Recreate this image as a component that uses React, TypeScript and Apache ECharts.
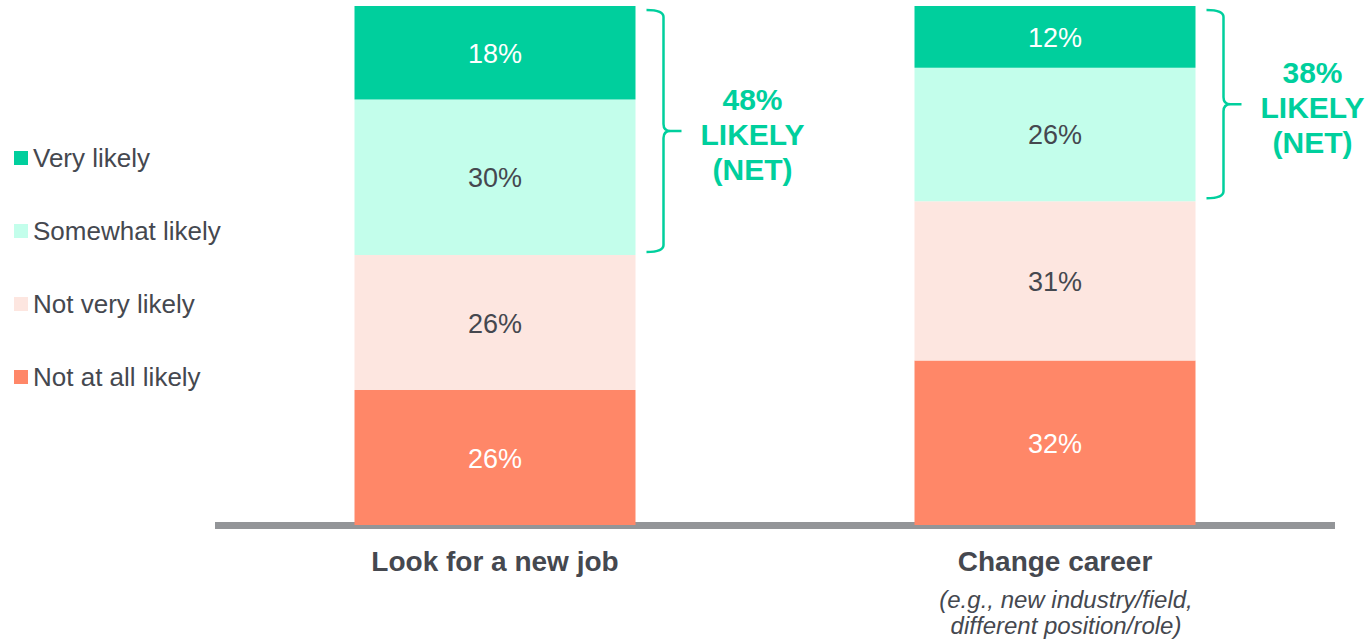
import React, { useEffect, useRef } from "react";
import * as echarts from "echarts";

const categories = ["Look for a new job", "Change career"];
const subtitles = ["", "(e.g., new industry/field,|different position/role)"];
const notAtAllLikely = [26, 32];
const notVeryLikely = [26, 31];
const somewhatLikely = [30, 26];
const veryLikely = [18, 12];
const netLikely = [48, 38];

const FONT = 'Arial, "Liberation Sans", sans-serif';
const TEXT = "#45484F";
const GREEN = "#00CF9D";
const BAR_W = 281;

export default function App() {
  const ref = useRef<HTMLDivElement>(null);
  useEffect(() => {
    if (!ref.current) return;
    const chart = echarts.init(ref.current, null, { renderer: "svg" });
    const totals = categories.map(
      (_, i) => notAtAllLikely[i] + notVeryLikely[i] + somewhatLikely[i] + veryLikely[i]
    );
    const norm = (arr: number[]) =>
      arr.map((v, i) => ({ value: (v / totals[i]) * 100, raw: v }));

    const mk = (name: string, arr: number[], color: string, labelColor: string) => ({
      name,
      type: "bar",
      stack: "total",
      barWidth: BAR_W,
      clip: false,
      data: norm(arr),
      itemStyle: { color },
      label: {
        show: true,
        position: "inside",
        color: labelColor,
        fontSize: 27,
        fontFamily: FONT,
        offset: [0, 1],
        formatter: (p: any) => p.data.raw + "%",
      },
      emphasis: { disabled: true },
    });

    const bracketData = categories.map((_, i) => [
      i,
      ((notAtAllLikely[i] + notVeryLikely[i]) / totals[i]) * 100,
      100,
      netLikely[i],
    ]);

    chart.setOption({
      animation: false,
      textStyle: { fontFamily: FONT },
      grid: { left: 215, right: 34, top: 6, bottom: 114 },
      legend: {
        orient: "vertical",
        left: 9,
        top: 138,
        icon: "rect",
        itemWidth: 14,
        itemHeight: 14,
        itemGap: 43,
        selectedMode: false,
        data: ["Very likely", "Somewhat likely", "Not very likely", "Not at all likely"],
        textStyle: { color: TEXT, fontSize: 26, fontFamily: FONT, lineHeight: 30 },
      },
      xAxis: {
        type: "category",
        data: categories,
        offset: 3.5,
        axisTick: { show: false },
        axisLine: { lineStyle: { color: "#939598", width: 7, cap: "butt" } },
        axisLabel: {
          interval: 0,
          margin: 7.5,
          formatter: (v: string, idx: number) => {
            const s = subtitles[idx];
            let out = `{b|${v}}`;
            if (s) s.split("|").forEach((l) => (out += `\n{i|${l}}`));
            return out;
          },
          rich: {
            b: { fontSize: 28, fontWeight: "bold", color: TEXT, lineHeight: 50, fontFamily: FONT },
            i: {
              fontSize: 24,
              fontStyle: "italic",
              color: TEXT,
              lineHeight: 26,
              fontFamily: FONT,
              padding: [0, 0, 0, 22],
            },
          },
        },
      },
      yAxis: { type: "value", min: 0, max: 100, show: false, splitLine: { show: false } },
      series: [
        mk("Not at all likely", notAtAllLikely, "#FF8768", "#FFFFFF"),
        mk("Not very likely", notVeryLikely, "#FDE6E0", TEXT),
        mk("Somewhat likely", somewhatLikely, "#C3FEEB", TEXT),
        mk("Very likely", veryLikely, GREEN, "#FFFFFF"),
        {
          type: "custom",
          clip: false,
          z: 10,
          encode: { x: 0, y: [1, 2] },
          data: bracketData,
          renderItem: (params: any, api: any) => {
            const i = api.value(0);
            const cx = api.coord([i, 0])[0];
            const right = cx + BAR_W / 2;
            const yt = api.coord([i, api.value(2)])[1] + 4;
            const yb = api.coord([i, api.value(1)])[1] - 3;
            const ym = (yt + yb) / 2;
            const x0 = right + 11;
            const xv = right + 28;
            const xt = right + 46;
            const r = 7;
            const d =
              `M${x0},${yt} Q${xv},${yt} ${xv},${yt + r} L${xv},${ym - r} Q${xv},${ym} ${xv + r},${ym} L${xt},${ym} ` +
              `M${xv + r},${ym} Q${xv},${ym} ${xv},${ym + r} L${xv},${yb - r} Q${xv},${yb} ${x0},${yb}`;
            return {
              type: "group",
              children: [
                {
                  type: "path",
                  shape: { pathData: d },
                  style: { stroke: GREEN, lineWidth: 2.5, fill: null },
                },
                {
                  type: "text",
                  style: {
                    text: `${api.value(3)}%\nLIKELY\n(NET)`,
                    x: right + 117,
                    y: ym + 3,
                    align: "center",
                    verticalAlign: "middle",
                    fontSize: 30,
                    fontWeight: "bold",
                    lineHeight: 35,
                    fill: GREEN,
                    fontFamily: FONT,
                  },
                },
              ],
            };
          },
        },
      ],
    });
    return () => chart.dispose();
  }, []);
  return (
    <div
      ref={ref}
      style={{ position: "absolute", left: 0, top: 0, width: 1369, height: 639 }}
    />
  );
}
